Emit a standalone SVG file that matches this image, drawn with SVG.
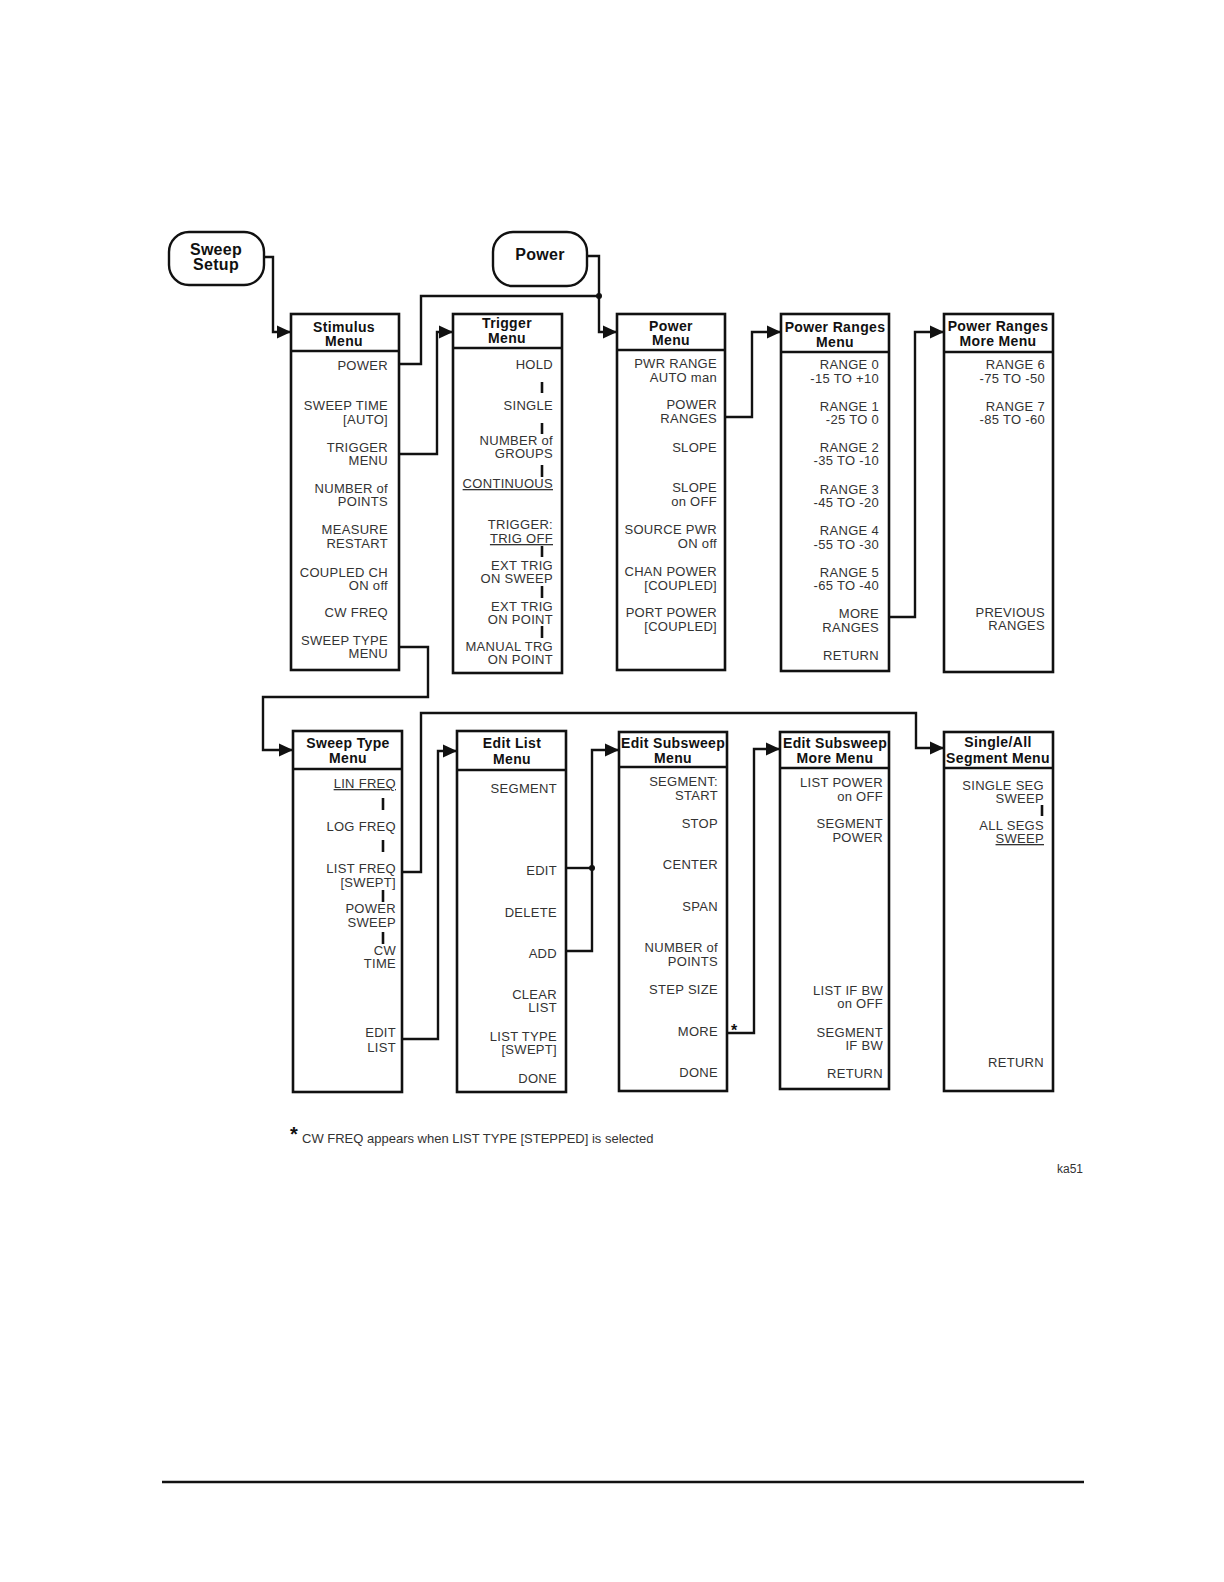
<svg xmlns="http://www.w3.org/2000/svg" width="1224" height="1582" viewBox="0 0 1224 1582">
<style>
.bg{fill:#fff}
.box{fill:#fff;stroke:#111;stroke-width:2.6}
.div{stroke:#111;stroke-width:2.4}
.hk{fill:#fff;stroke:#111;stroke-width:2.4}
.hkt{font-family:"Liberation Sans",Arial,sans-serif;font-weight:bold;font-size:16px;fill:#111;text-anchor:middle;letter-spacing:0.3px}
.t{font-family:"Liberation Sans",Arial,sans-serif;font-weight:bold;font-size:14px;fill:#111;text-anchor:middle;letter-spacing:0.35px}
.i{font-family:"Liberation Sans",Arial,sans-serif;font-size:13px;fill:#333;text-anchor:end;letter-spacing:0.3px}
.u{text-decoration:underline}
.bar{stroke:#111;stroke-width:2.6}
.c{fill:none;stroke:#111;stroke-width:2.4}
.ca{fill:none;stroke:#111;stroke-width:2.4;marker-end:url(#ah)}
.note{font-family:"Liberation Sans",Arial,sans-serif;font-size:13px;fill:#333}
</style>
<defs>
<marker id="ah" markerUnits="userSpaceOnUse" markerWidth="14" markerHeight="14" viewBox="0 0 12 12" refX="12" refY="6" orient="auto">
<path d="M0,0.5 L12,6 L0,11.5 Z" fill="#111"/>
</marker>
</defs>
<rect class="bg" x="0" y="0" width="1224" height="1582"/>

<g id="connectors">
<path class="ca" d="M264,257 H273 V332 H291"/>
<path class="ca" d="M587,256 H599 V332 H617"/>
<path class="c" d="M399,364 H421 V296 H599"/>
<circle cx="599" cy="296" r="3" fill="#111"/>
<path class="ca" d="M399,454 H437 V332 H453"/>
<path class="ca" d="M725,417 H752 V332 H781"/>
<path class="ca" d="M889,617 H915 V332 H944"/>
<path class="ca" d="M399,647 H428 V697 H263 V750 H293"/>
<path class="ca" d="M402,872 H421 V713 H916 V748 H944"/>
<path class="ca" d="M402,1039 H438 V751 H457"/>
<path class="c" d="M566,868 H592"/>
<circle cx="592" cy="868" r="3" fill="#111"/>
<path class="ca" d="M566,951 H592 V750 H619"/>
<path class="ca" d="M727,1033 H754 V749 H780"/>
<text x="731" y="1036" style="font-family:'Liberation Sans',Arial,sans-serif;font-weight:bold;font-size:16px;fill:#111">*</text>
</g>

<g id="sweep-setup">
<rect class="hk" x="169" y="232" width="95" height="53" rx="20" ry="20"/>
<text class="hkt" x="216" y="255">Sweep</text>
<text class="hkt" x="216" y="270">Setup</text>
</g>

<g id="power-key">
<rect class="hk" x="493" y="232" width="94" height="54" rx="20" ry="20"/>
<text class="hkt" x="540" y="260">Power</text>
</g>

<g id="stimulus-menu">
<rect class="box" x="291" y="314" width="108" height="356"/>
<line class="div" x1="291" y1="351" x2="399" y2="351"/>
<text class="t" x="344" y="332">Stimulus</text>
<text class="t" x="344" y="346">Menu</text>
<text class="i" x="388" y="370">POWER</text>
<text class="i" x="388" y="410">SWEEP TIME</text>
<text class="i" x="388" y="424">[AUTO]</text>
<text class="i" x="388" y="452">TRIGGER</text>
<text class="i" x="388" y="465">MENU</text>
<text class="i" x="388" y="493">NUMBER of</text>
<text class="i" x="388" y="506">POINTS</text>
<text class="i" x="388" y="534">MEASURE</text>
<text class="i" x="388" y="548">RESTART</text>
<text class="i" x="388" y="577">COUPLED CH</text>
<text class="i" x="388" y="590">ON off</text>
<text class="i" x="388" y="617">CW  FREQ</text>
<text class="i" x="388" y="645">SWEEP TYPE</text>
<text class="i" x="388" y="658">MENU</text>
</g>

<g id="trigger-menu">
<rect class="box" x="453" y="314" width="109" height="359"/>
<line class="div" x1="453" y1="348" x2="562" y2="348"/>
<text class="t" x="507" y="328">Trigger</text>
<text class="t" x="507" y="343">Menu</text>
<text class="i" x="553" y="369">HOLD</text>
<line class="bar" x1="542" y1="382" x2="542" y2="393"/>
<text class="i" x="553" y="410">SINGLE</text>
<line class="bar" x1="542" y1="423" x2="542" y2="434"/>
<text class="i" x="553" y="445">NUMBER of</text>
<text class="i" x="553" y="458">GROUPS</text>
<line class="bar" x1="542" y1="465" x2="542" y2="477"/>
<text class="i u" x="553" y="488">CONTINUOUS</text>
<text class="i" x="553" y="529">TRIGGER:</text>
<text class="i u" x="553" y="543">TRIG OFF</text>
<line class="bar" x1="542" y1="546" x2="542" y2="557"/>
<text class="i" x="553" y="570">EXT TRIG</text>
<text class="i" x="553" y="583">ON SWEEP</text>
<line class="bar" x1="542" y1="586" x2="542" y2="598"/>
<text class="i" x="553" y="611">EXT TRIG</text>
<text class="i" x="553" y="624">ON POINT</text>
<line class="bar" x1="542" y1="626" x2="542" y2="638"/>
<text class="i" x="553" y="651">MANUAL TRG</text>
<text class="i" x="553" y="664">ON POINT</text>
</g>

<g id="power-menu">
<rect class="box" x="617" y="314" width="108" height="356"/>
<line class="div" x1="617" y1="350" x2="725" y2="350"/>
<text class="t" x="671" y="331">Power</text>
<text class="t" x="671" y="345">Menu</text>
<text class="i" x="717" y="368">PWR RANGE</text>
<text class="i" x="717" y="382">AUTO man</text>
<text class="i" x="717" y="409">POWER</text>
<text class="i" x="717" y="423">RANGES</text>
<text class="i" x="717" y="452">SLOPE</text>
<text class="i" x="717" y="492">SLOPE</text>
<text class="i" x="717" y="506">on OFF</text>
<text class="i" x="717" y="534">SOURCE PWR</text>
<text class="i" x="717" y="548">ON off</text>
<text class="i" x="717" y="576">CHAN POWER</text>
<text class="i" x="717" y="590">[COUPLED]</text>
<text class="i" x="717" y="617">PORT POWER</text>
<text class="i" x="717" y="631">[COUPLED]</text>
</g>

<g id="power-ranges-menu">
<rect class="box" x="781" y="314" width="108" height="357"/>
<line class="div" x1="781" y1="352" x2="889" y2="352"/>
<text class="t" x="835" y="332">Power Ranges</text>
<text class="t" x="835" y="347">Menu</text>
<text class="i" x="879" y="369">RANGE 0</text>
<text class="i" x="879" y="383">-15 TO +10</text>
<text class="i" x="879" y="411">RANGE 1</text>
<text class="i" x="879" y="424">-25 TO 0</text>
<text class="i" x="879" y="452">RANGE 2</text>
<text class="i" x="879" y="465">-35 TO -10</text>
<text class="i" x="879" y="494">RANGE 3</text>
<text class="i" x="879" y="507">-45 TO -20</text>
<text class="i" x="879" y="535">RANGE 4</text>
<text class="i" x="879" y="549">-55 TO -30</text>
<text class="i" x="879" y="577">RANGE 5</text>
<text class="i" x="879" y="590">-65 TO -40</text>
<text class="i" x="879" y="618">MORE</text>
<text class="i" x="879" y="632">RANGES</text>
<text class="i" x="879" y="660">RETURN</text>
</g>

<g id="power-ranges-more-menu">
<rect class="box" x="944" y="314" width="109" height="358"/>
<line class="div" x1="944" y1="352" x2="1053" y2="352"/>
<text class="t" x="998" y="331">Power Ranges</text>
<text class="t" x="998" y="346">More Menu</text>
<text class="i" x="1045" y="369">RANGE 6</text>
<text class="i" x="1045" y="383">-75 TO -50</text>
<text class="i" x="1045" y="411">RANGE 7</text>
<text class="i" x="1045" y="424">-85 TO -60</text>
<text class="i" x="1045" y="617">PREVIOUS</text>
<text class="i" x="1045" y="630">RANGES</text>
</g>

<g id="sweep-type-menu">
<rect class="box" x="293" y="731" width="109" height="361"/>
<line class="div" x1="293" y1="769" x2="402" y2="769"/>
<text class="t" x="348" y="748">Sweep Type</text>
<text class="t" x="348" y="763">Menu</text>
<text class="i u" x="396" y="788">LIN FREQ</text>
<line class="bar" x1="383" y1="798" x2="383" y2="810"/>
<text class="i" x="396" y="831">LOG FREQ</text>
<line class="bar" x1="383" y1="840" x2="383" y2="852"/>
<text class="i" x="396" y="873">LIST FREQ</text>
<text class="i" x="396" y="887">[SWEPT]</text>
<line class="bar" x1="383" y1="890" x2="383" y2="902"/>
<text class="i" x="396" y="913">POWER</text>
<text class="i" x="396" y="927">SWEEP</text>
<line class="bar" x1="383" y1="932" x2="383" y2="944"/>
<text class="i" x="396" y="955">CW</text>
<text class="i" x="396" y="968">TIME</text>
<text class="i" x="396" y="1037">EDIT</text>
<text class="i" x="396" y="1052">LIST</text>
</g>

<g id="edit-list-menu">
<rect class="box" x="457" y="731" width="109" height="361"/>
<line class="div" x1="457" y1="770" x2="566" y2="770"/>
<text class="t" x="512" y="748">Edit List</text>
<text class="t" x="512" y="764">Menu</text>
<text class="i" x="557" y="793">SEGMENT</text>
<text class="i" x="557" y="875">EDIT</text>
<text class="i" x="557" y="917">DELETE</text>
<text class="i" x="557" y="958">ADD</text>
<text class="i" x="557" y="999">CLEAR</text>
<text class="i" x="557" y="1012">LIST</text>
<text class="i" x="557" y="1041">LIST TYPE</text>
<text class="i" x="557" y="1054">[SWEPT]</text>
<text class="i" x="557" y="1083">DONE</text>
</g>

<g id="edit-subsweep-menu">
<rect class="box" x="619" y="732" width="108" height="359"/>
<line class="div" x1="619" y1="767" x2="727" y2="767"/>
<text class="t" x="673" y="748">Edit Subsweep</text>
<text class="t" x="673" y="763">Menu</text>
<text class="i" x="718" y="786">SEGMENT:</text>
<text class="i" x="718" y="800">START</text>
<text class="i" x="718" y="828">STOP</text>
<text class="i" x="718" y="869">CENTER</text>
<text class="i" x="718" y="911">SPAN</text>
<text class="i" x="718" y="952">NUMBER of</text>
<text class="i" x="718" y="966">POINTS</text>
<text class="i" x="718" y="994">STEP SIZE</text>
<text class="i" x="718" y="1036">MORE</text>
<text class="i" x="718" y="1077">DONE</text>
</g>

<g id="edit-subsweep-more-menu">
<rect class="box" x="780" y="732" width="109" height="357"/>
<line class="div" x1="780" y1="768" x2="889" y2="768"/>
<text class="t" x="835" y="748">Edit Subsweep</text>
<text class="t" x="835" y="763">More Menu</text>
<text class="i" x="883" y="787">LIST POWER</text>
<text class="i" x="883" y="801">on OFF</text>
<text class="i" x="883" y="828">SEGMENT</text>
<text class="i" x="883" y="842">POWER</text>
<text class="i" x="883" y="995">LIST IF BW</text>
<text class="i" x="883" y="1008">on OFF</text>
<text class="i" x="883" y="1037">SEGMENT</text>
<text class="i" x="883" y="1050">IF BW</text>
<text class="i" x="883" y="1078">RETURN</text>
</g>

<g id="single-all-segment-menu">
<rect class="box" x="944" y="732" width="109" height="359"/>
<line class="div" x1="944" y1="768" x2="1053" y2="768"/>
<text class="t" x="998" y="747">Single/All</text>
<text class="t" x="998" y="763">Segment Menu</text>
<text class="i" x="1044" y="790">SINGLE SEG</text>
<text class="i" x="1044" y="803">SWEEP</text>
<line class="bar" x1="1042" y1="805" x2="1042" y2="816"/>
<text class="i" x="1044" y="830">ALL SEGS</text>
<text class="i u" x="1044" y="843">SWEEP</text>
<text class="i" x="1044" y="1067">RETURN</text>
</g>

<g id="footnote">
<text x="290" y="1141" style="font-family:'Liberation Sans',Arial,sans-serif;font-weight:bold;font-size:20px;fill:#111">*</text>
<text class="note" x="302" y="1143">CW FREQ appears when LIST TYPE [STEPPED] is selected</text>
<text class="note" x="1057" y="1173" style="font-size:12px">ka51</text>
</g>

<line x1="162" y1="1482" x2="1084" y2="1482" stroke="#111" stroke-width="2.6"/>
</svg>
